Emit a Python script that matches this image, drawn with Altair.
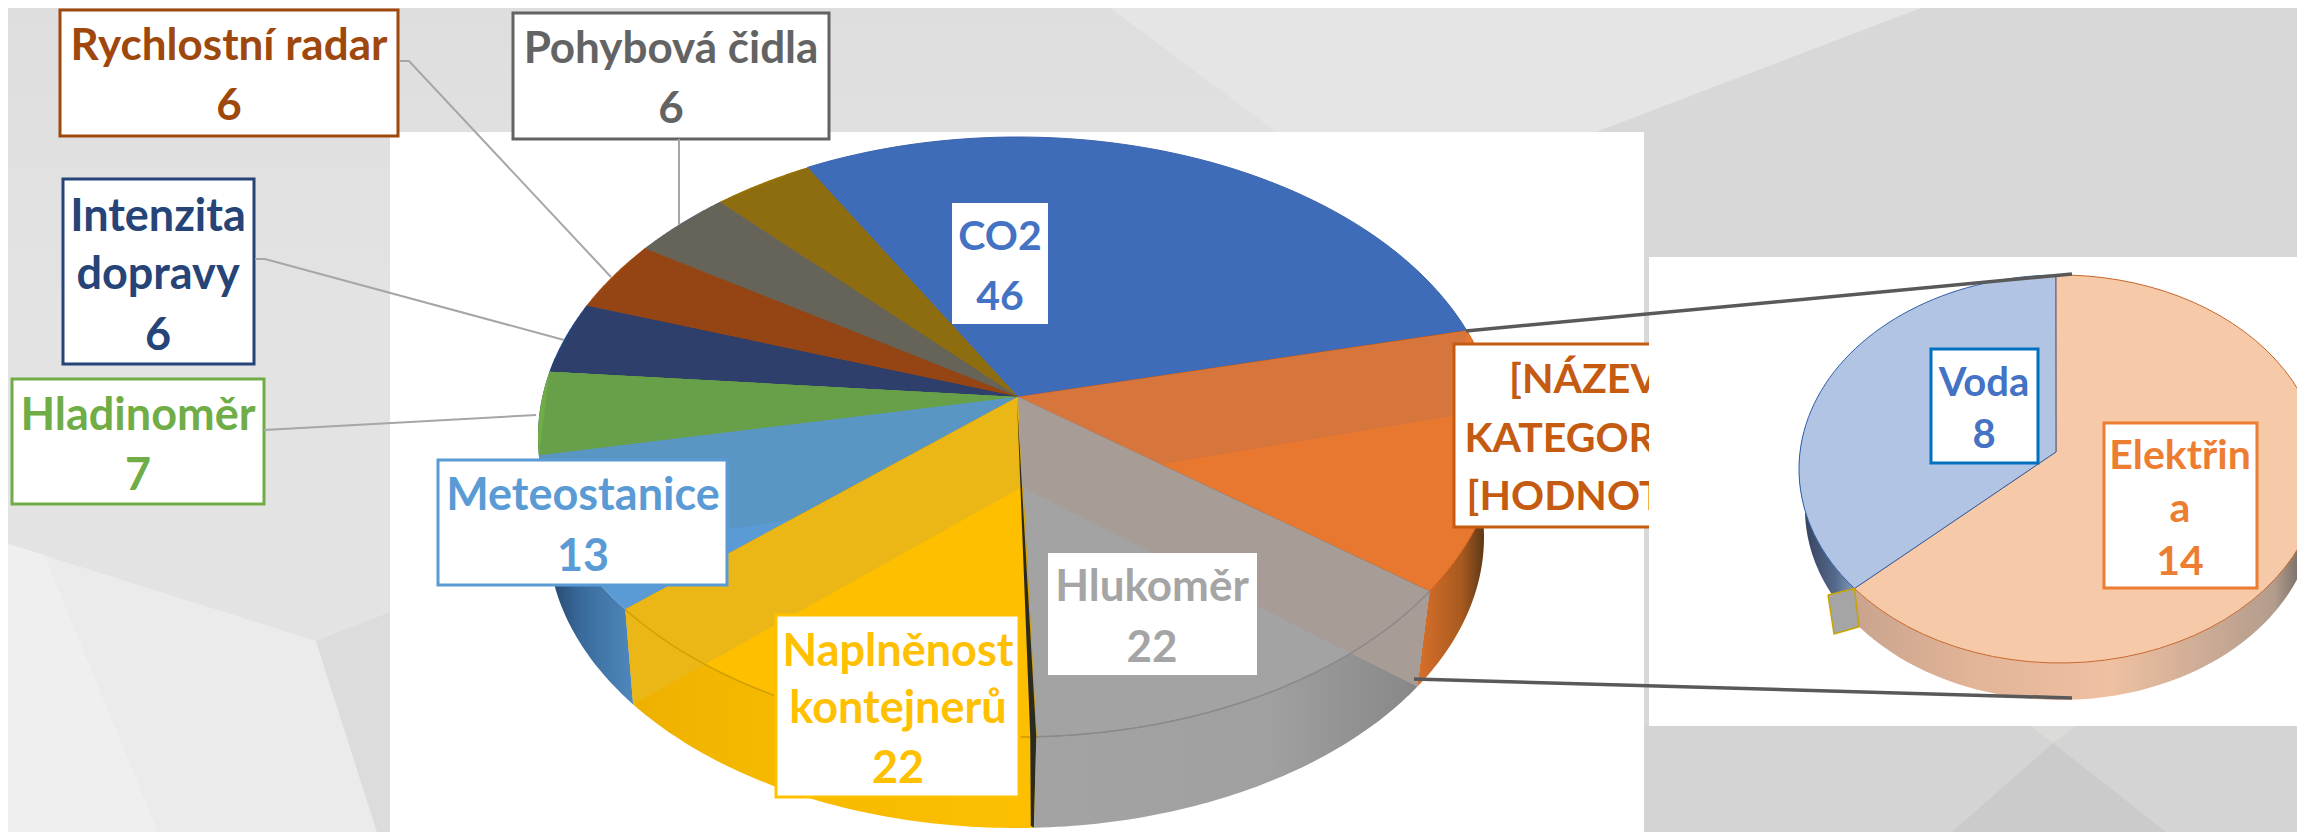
import math
import altair as alt
import pandas as pd

# ---- data
main_names = ["CO2", "[NÁZEV KATEGORIE]", "Hlukoměr", "Naplněnost kontejnerů", "Meteostanice",
              "Hladinoměr", "Intenzita dopravy", "Rychlostní radar", "Pohybová čidla", "Ostatní"]
main_values = [46, 22, 22, 22, 13, 7, 6, 6, 6, 6]
main_colors = ["#3f6cb9", "#e8782f", "#a3a3a3", "#fdbf00", "#5b9bd5",
               "#70ad47", "#264478", "#9e480e", "#636363", "#997300"]
main_walls = [None, "#d7763c", "#a89c96", "#eab716", "#5996c4",
              "#68a04a", "#2e3f6b", "#944513", "#666458", "#8e6d10"]
sub_names = ["Elektřina", "Voda"]
sub_values = [14, 8]
sub_colors = ["#f6c9a9", "#b1c4e4"]
sub_strokes = ["#c8672a", "#2f5fa8"]

# ---- layout
X0, Y0, XR, H = 8, 8, 2297, 832
M = dict(cx=1018, ax=1018, cy=437, a=480, b=300, k=0.133, cx2=1016, cy2=537, a2=468, b2=291, low=(1022, 487), start=-29.6)
S = dict(cx=2060, ax=2056, cy=469, a=261, b=194, k=0.088, cx2=2060, cy2=509, a2=255, b2=191, low=(2056, 490), start=-1.0)


def wrp(th, k):
    r = math.radians(th)
    d = 1 + k * math.cos(r)
    return (math.sin(r) * math.sqrt(1 - k * k) / d, (math.cos(r) + k) / d)


def top(g, th):
    s, c = wrp(th, g["k"])
    return (g["cx"] + g["a"] * s, g["cy"] - g["b"] * c)


def bot(g, th):
    s, c = wrp(th, g["k"])
    return (g["cx2"] + g["a2"] * s, g["cy2"] - g["b2"] * c)


def apex(g):
    return (g["ax"], g["cy"] - g["b"] * g["k"])


def sweep(a, b, n=60):
    return [a + (b - a) * i / n for i in range(n + 1)]


def bounds(g, values):
    tot = sum(values)
    out = [g["start"]]
    for v in values:
        out.append(out[-1] + 360 * v / tot)
    return out


xs = alt.Scale(domain=[X0, XR], nice=False, zero=False)
ys = alt.Scale(domain=[H, Y0], nice=False, zero=False)


def poly(pts, fill, stroke="transparent", sw=0):
    p = list(pts) + [pts[0]]
    df = pd.DataFrame({"x": [q[0] for q in p], "y": [q[1] for q in p], "i": list(range(len(p)))})
    return alt.Chart(df).mark_line(fill=fill, stroke=stroke, strokeWidth=sw, strokeJoin="round", interpolate="linear").encode(
        x=alt.X("x:Q", scale=xs, axis=None), y=alt.Y("y:Q", scale=ys, axis=None), order=alt.Order("i:Q"))


def path(pts, color, sw):
    df = pd.DataFrame({"x": [q[0] for q in pts], "y": [q[1] for q in pts], "i": list(range(len(pts)))})
    return alt.Chart(df).mark_line(stroke=color, strokeWidth=sw, interpolate="linear").encode(
        x=alt.X("x:Q", scale=xs, axis=None), y=alt.Y("y:Q", scale=ys, axis=None), order=alt.Order("i:Q"))


def box(x1, x2, y1, y2, fill="white", stroke="transparent", sw=0):
    df = pd.DataFrame({"x": [x1], "x2": [x2], "y": [y1], "y2": [y2]})
    return alt.Chart(df).mark_rect(fill=fill, stroke=stroke, strokeWidth=sw).encode(
        x=alt.X("x:Q", scale=xs, axis=None), x2="x2:Q", y=alt.Y("y:Q", scale=ys, axis=None), y2="y2:Q")


def grad(stops, vertical=False):
    return alt.Gradient(gradient="linear", x1=0, y1=0, x2=0 if vertical else 1, y2=1 if vertical else 0,
                        stops=[alt.GradientStop(color=c, offset=o) for o, c in stops])


def side(g, a, b, fill):
    return poly([top(g, t) for t in sweep(a, b)] + [bot(g, t) for t in sweep(b, a)], fill)


def slice_(g, a, b, fill, stroke="transparent", sw=0):
    return poly([apex(g)] + [top(g, t) for t in sweep(a, b)], fill, stroke, sw)


def wall(g, th, fill, lift=0):
    p = bot(g, th)
    return poly([apex(g), top(g, th), (p[0], p[1] - lift), g["low"]], fill)


layers = []
# background facets
for pts, c in [
    ([(8, 8), (2305, 8), (2305, 832), (8, 832)], "#e3e3e3"),
    ([(8, 8), (1110, 8), (1277, 132), (1277, 300), (8, 300)], grad([(0, "#dedede"), (1, "#e3e3e3")], True)),
    ([(1110, 8), (1277, 132), (1596, 132), (1921, 8)], "#e5e5e5"),
    ([(1921, 8), (2305, 8), (2305, 832), (1644, 832), (1644, 132), (1596, 132)], "#d8d8d8"),
    ([(1644, 726), (2305, 726), (2305, 832), (1644, 832)], "#d4d4d4"),
    ([(1952, 832), (2053, 743), (2166, 832)], "#cbcbcb"),
    ([(2030, 726), (2053, 743), (2075, 726)], "#dbdbd8"),
    ([(8, 544), (316, 641), (377, 832), (8, 832)], "#ebebeb"),
    ([(8, 544), (44, 555), (158, 832), (8, 832)], "#efefef"),
    ([(316, 641), (390, 612), (390, 832), (377, 832)], "#dcdcdc"),
]:
    layers.append(poly(pts, c))
layers.append(box(390, 1644, 132, 832))

# main pie
b = bounds(M, main_values)
layers.append(side(M, max(b[1], 85), b[2], grad([(0, "#d9702c"), (0.55, "#a85a1f"), (0.9, "#4a2f15"), (1, "#2b1c10")])))
layers.append(side(M, b[2], b[3], grad([(0, "#a3a3a3"), (0.6, "#a0a0a0"), (1, "#858585")])))
layers.append(side(M, b[3], b[4], grad([(0, "#eeb000"), (0.35, "#f6b900"), (1, "#fdbf00")])))
layers.append(side(M, b[4], 278, grad([(0, "#1e3a58"), (0.45, "#3a6a9c"), (1, "#4f88bd")])))

layers.append(slice_(M, b[0], b[1], main_colors[0], "#3a63ad", 1))
layers.append(slice_(M, b[1], b[2], main_colors[1], "#c55a11", 1))
layers.append(wall(M, b[1], main_walls[1], lift=18))
layers.append(slice_(M, b[2], b[3], main_colors[2], "#8a8a8a", 1))
for i in [9, 8, 7, 6, 5, 4]:
    layers.append(slice_(M, b[i], b[i + 1], main_colors[i]))
    layers.append(wall(M, b[i + 1], main_walls[i]))
    if i != 4:
        layers.append(poly([apex(M), top(M, b[i]), top(M, b[i + 1])], main_walls[i]))
layers.append(slice_(M, b[3], b[4], main_colors[3], "#d9a400", 1))
layers.append(wall(M, b[4], main_walls[3]))
layers.append(wall(M, b[2], main_walls[2]))
# rim lines over the walls, dark edge between grey and yellow
layers.append(path([top(M, t) for t in sweep(b[2], b[3])], "#8a8a8a", 1.5))
layers.append(path([top(M, t) for t in sweep(b[3], b[4])], "#d2a000", 1.5))
layers.append(poly([(1017, 400), M["low"], top(M, b[3]), bot(M, b[3]), (bot(M, b[3])[0] - 3, bot(M, b[3])[1] - 2),
                    (top(M, b[3])[0] - 6, top(M, b[3])[1])], "#2b2a1e"))

# label boxes and texts
BOXES = [
    (60, 398, 10, 136, "#9e480e"), (513, 829, 13, 139, "#636363"), (63, 254, 179, 364, "#264478"),
    (12, 264, 379, 504, "#70ad47"), (438, 727, 460, 585, "#5b9bd5"), (776, 1019, 615, 797, "#ffc000"),
    (952, 1048, 203, 324, None), (1048, 1257, 553, 675, None), (1454, 1740, 344, 527, "#c55a11"),
]
for x1, x2, y1, y2, c in BOXES:
    layers.append(box(x1, x2, y1, y2, "white", c or "transparent", 3 if c else 0))

for pts in [
    [(399, 61), (409, 61), (611, 277)],
    [(679, 139), (679, 225)],
    [(255, 259), (265, 259), (564, 340)],
    [(264, 430), (536, 415)],
]:
    layers.append(path(pts, "#a6a6a6", 2))

TEXT_M = pd.DataFrame([
    ("Rychlostní radar", 229, 47, "#9e480e", 44), ("6", 229, 107, "#9e480e", 44),
    ("Pohybová čidla", 671, 50, "#636363", 44), ("6", 671, 110, "#636363", 44),
    ("Intenzita", 158, 217, "#264478", 45), ("dopravy", 158, 275, "#264478", 45), ("6", 158, 336, "#264478", 45),
    ("Hladinoměr", 138, 416, "#70ad47", 45), ("7", 138, 476, "#70ad47", 45),
    ("Meteostanice", 583, 496, "#5b9bd5", 45), ("13", 583, 557, "#5b9bd5", 45),
    ("Naplněnost", 898, 652, "#ffc000", 45), ("kontejnerů", 898, 709, "#ffc000", 45), ("22", 898, 769, "#ffc000", 45),
    ("CO2", 1000, 238, "#4472c4", 41), ("46", 1000, 298, "#4472c4", 41),
    ("Hlukoměr", 1152, 588, "#a5a5a5", 44), ("22", 1152, 649, "#a5a5a5", 44),
    ("[NÁZEV", 1584, 381, "#c55a11", 41), ("KATEGORIE]", 1584, 440, "#c55a11", 41), ("[HODNOTA]", 1584, 498, "#c55a11", 41),
], columns=["t", "x", "y", "c", "s"])


def texts(df):
    return alt.Chart(df).mark_text(font="Lato", fontWeight="bold", align="center", baseline="middle").encode(
        x=alt.X("x:Q", scale=xs, axis=None), y=alt.Y("y:Q", scale=ys, axis=None), text="t:N",
        color=alt.Color("c:N", scale=None), size=alt.Size("s:Q", scale=None))


layers.append(texts(TEXT_M))

# side panel and secondary pie
layers.append(box(1649, 2305, 257, 726))
sb = bounds(S, sub_values)
layers.append(side(S, 85, sb[1], grad([(0, "#c9a48e"), (0.25, "#e2b498"), (0.55, "#efc0a2"), (0.9, "#b39c8c"), (1, "#4a4a4a")])))
layers.append(side(S, sb[1], 275, grad([(0, "#2f3c55"), (0.6, "#55698c"), (1, "#8fa3c2")])))
layers.append(slice_(S, sb[0], sb[1], sub_colors[0], sub_strokes[0], 1))
layers.append(slice_(S, sb[1], sb[2], sub_colors[1], sub_strokes[1], 1))
layers.append(poly([(1828, 595), top(S, sb[1]), bot(S, sb[1]), (1834, 634)], "#a5a5a5", "#c9a400", 1.5))

layers.append(box(1931, 2038, 349, 463, "white", "#0070c0", 3))
layers.append(box(2104, 2257, 423, 588, "white", "#ed7d31", 3))
TEXT_S = pd.DataFrame([
    ("Voda", 1984, 384, "#4472c4", 40), ("8", 1984, 436, "#4472c4", 40),
    ("Elektřin", 2180, 457, "#ed7d31", 41), ("a", 2180, 510, "#ed7d31", 41), ("14", 2180, 563, "#ed7d31", 41),
], columns=["t", "x", "y", "c", "s"])
layers.append(texts(TEXT_S))

# series lines joining the pies
layers.append(path([(1466, 331), (2072, 274)], "#595959", 3.5))
layers.append(path([(1414, 679), (2072, 698)], "#595959", 3.5))

chart = alt.layer(*layers).properties(
    width=XR - X0, height=H - Y0, padding=0, autosize=alt.AutoSizeParams(type="none"), background="#e3e3e3"
).configure_view(stroke=None)
chart.save("out.html", embed_options={"renderer": "svg", "actions": False})
